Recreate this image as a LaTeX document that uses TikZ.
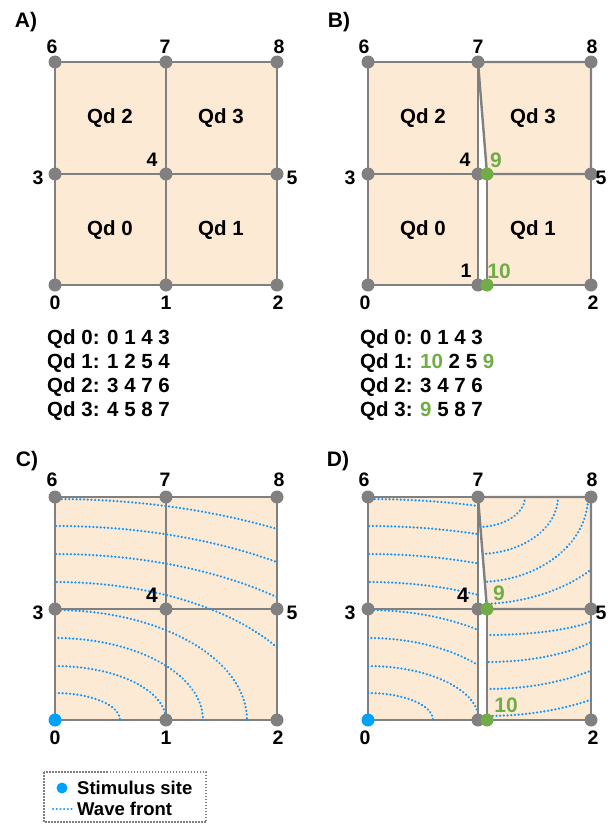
\documentclass[tikz,border=0pt]{standalone}
\usepackage{fontspec}
\setmainfont{Liberation Sans}
\definecolor{peach}{RGB}{253,234,213}
\definecolor{gridgray}{RGB}{128,128,128}
\definecolor{crackgreen}{RGB}{112,173,71}
\definecolor{stimblue}{RGB}{0,162,255}
\definecolor{waveblue}{RGB}{25,150,245}
\tikzset{
  quad/.style={fill=peach},
  edge/.style={draw=gridgray, line width=2.4pt, line join=round},
  vtx/.style={circle, fill=gridgray, inner sep=0pt, minimum size=13pt},
  gvtx/.style={vtx, fill=crackgreen},
  svtx/.style={vtx, fill=stimblue},
  wave/.style={draw=waveblue, line width=2.5pt, dash pattern=on 0.01pt off 3.7pt, line cap=round},
  nlbl/.style={font=\fontsize{19.5}{19.5}\selectfont\bfseries, inner sep=0pt},
  blbl/.style={font=\fontsize{21}{21}\selectfont\bfseries, inner sep=0pt},
  glbl/.style={blbl, text=crackgreen},
  qlbl/.style={font=\fontsize{20.5}{20.5}\selectfont\bfseries, inner sep=0pt},
  plbl/.style={font=\fontsize{21}{21}\selectfont\bfseries, inner sep=0pt},
  listline/.style={font=\fontsize{20.5}{20.5}\selectfont\bfseries, inner sep=0pt, anchor=west},
  leglbl/.style={font=\fontsize{18.5}{18.5}\selectfont\bfseries, inner sep=0pt, anchor=west},
  legbox/.style={draw=gridgray, line width=1.5pt, dash pattern=on 1.5pt off 1.5pt},
}
\begin{document}
\begin{tikzpicture}[x=1pt,y=-1pt]
\useasboundingbox (0,0) rectangle (608,825);
% ---------------- coordinates ----------------
% Panel A
\coordinate (a0) at (55,285);  \coordinate (a1) at (166,285); \coordinate (a2) at (277,285);
\coordinate (a3) at (55,174);  \coordinate (a4) at (166,174); \coordinate (a5) at (277,174);
\coordinate (a6) at (55,62);   \coordinate (a7) at (166,62);  \coordinate (a8) at (277,62);
% Panel B
\coordinate (b0) at (368,285); \coordinate (b1) at (478,285); \coordinate (b2) at (591,285);
\coordinate (b3) at (368,174); \coordinate (b4) at (478,174); \coordinate (b5) at (591,174);
\coordinate (b6) at (368,62);  \coordinate (b7) at (478,62);  \coordinate (b8) at (591,62);
\coordinate (b9) at (487,174); \coordinate (b10) at (487,285);
% Panel C
\coordinate (c0) at (55,720);  \coordinate (c1) at (166,720); \coordinate (c2) at (277,720);
\coordinate (c3) at (55,609);  \coordinate (c4) at (166,609); \coordinate (c5) at (277,609);
\coordinate (c6) at (55,497);  \coordinate (c7) at (166,497); \coordinate (c8) at (277,497);
% Panel D
\coordinate (d0) at (368,720); \coordinate (d1) at (478,720); \coordinate (d2) at (591,720);
\coordinate (d3) at (368,609); \coordinate (d4) at (478,609); \coordinate (d5) at (591,609);
\coordinate (d6) at (368,497); \coordinate (d7) at (478,497); \coordinate (d8) at (591,497);
\coordinate (d9) at (487,609); \coordinate (d10) at (487,720);

% ---------------- fills ----------------
\foreach \p in {a,c}{
  \fill[quad] (\p0) -- (\p1) -- (\p4) -- (\p3) -- cycle;
  \fill[quad] (\p1) -- (\p2) -- (\p5) -- (\p4) -- cycle;
  \fill[quad] (\p3) -- (\p4) -- (\p7) -- (\p6) -- cycle;
  \fill[quad] (\p4) -- (\p5) -- (\p8) -- (\p7) -- cycle;
}
\foreach \p in {b,d}{
  \fill[quad] (\p0) -- (\p1) -- (\p4) -- (\p3) -- cycle;
  \fill[quad] (\p10) -- (\p2) -- (\p5) -- (\p9) -- cycle;
  \fill[quad] (\p3) -- (\p4) -- (\p7) -- (\p6) -- cycle;
  \fill[quad] (\p9) -- (\p5) -- (\p8) -- (\p7) -- cycle;
}

% ---------------- edges ----------------
\foreach \p in {a,c}{
  \draw[edge] (\p0) -- (\p1) -- (\p4) -- (\p3) -- cycle;
  \draw[edge] (\p1) -- (\p2) -- (\p5) -- (\p4) -- cycle;
  \draw[edge] (\p3) -- (\p4) -- (\p7) -- (\p6) -- cycle;
  \draw[edge] (\p4) -- (\p5) -- (\p8) -- (\p7) -- cycle;
}
\foreach \p in {b,d}{
  \draw[edge] (\p0) -- (\p1) -- (\p4) -- (\p3) -- cycle;
  \draw[edge] (\p10) -- (\p2) -- (\p5) -- (\p9) -- cycle;
  \draw[edge] (\p3) -- (\p4) -- (\p7) -- (\p6) -- cycle;
  \draw[edge] (\p9) -- (\p5) -- (\p8) -- (\p7) -- cycle;
}

% ---------------- wave fronts ----------------
\begin{scope}
  \clip (c0) rectangle (c8);
  \foreach \ra/\rb in {65/27, 111/54, 148/82, 192/110, 261/138, 330/166, 382/194, 441/221}
    \draw[wave] (c0) ellipse [x radius=\ra, y radius=\rb];
\end{scope}
\begin{scope}
  \clip (d0) -- (d1) -- (d4) -- (d7) -- (d6) -- cycle;
  \foreach \ra/\rb in {65/27, 111/54, 148/82, 192/110, 261/138, 330/166, 382/194, 441/221}
    \draw[wave] (d0) ellipse [x radius=\ra, y radius=\rb];
\end{scope}
\begin{scope}
  \clip (d9) -- (d5) -- (d8) -- (d7) -- cycle;
  \foreach \ra/\rb in {47/30, 80/57, 110/85, 154/107}
    \draw[wave] (d7) ellipse [x radius=\ra, y radius=\rb];
\end{scope}
\begin{scope}
  \clip (d10) -- (d2) -- (d5) -- (d9) -- cycle;
  \foreach \ra/\rb in {119/26, 134/53, 163/80, 196/107}
    \draw[wave] (d9) ellipse [x radius=\ra, y radius=\rb];
\end{scope}

% ---------------- vertices ----------------
\foreach \p in {a,b,c,d}{
  \foreach \i in {1,...,8}
    \node[vtx] (n\p\i) at (\p\i) {};
}
\node[vtx] (na0) at (a0) {};
\node[vtx] (nb0) at (b0) {};
\node[svtx] (nc0) at (c0) {};
\node[svtx] (nd0) at (d0) {};
\node[gvtx] (nb9) at (b9) {};
\node[gvtx] (nb10) at (b10) {};
\node[gvtx] (nd9) at (d9) {};
\node[gvtx] (nd10) at (d10) {};

% ---------------- panel labels ----------------
\node[plbl] (pA) at (26,22) {A)};
\node[plbl] (pB) at (339,22) {B)};
\node[plbl] (pC) at (27,461) {C)};
\node[plbl] (pD) at (338,461) {D)};

% ---------------- node labels A ----------------
\node[nlbl] (la6) at (52,47) {6};
\node[nlbl] (la7) at (165,47) {7};
\node[nlbl] (la8) at (279,47) {8};
\node[nlbl] (la3) at (38,178) {3};
\node[nlbl] (la5) at (292,178) {5};
\node[nlbl] (la4) at (152,160) {4};
\node[nlbl] (la0) at (55,303) {0};
\node[nlbl] (la1) at (166,303) {1};
\node[nlbl] (la2) at (278,303) {2};
\node[qlbl] (qa2) at (110,118) {Qd 2};
\node[qlbl] (qa3) at (221,118) {Qd 3};
\node[qlbl] (qa0) at (110,230) {Qd 0};
\node[qlbl] (qa1) at (221,230) {Qd 1};

% ---------------- node labels B ----------------
\node[nlbl] (lb6) at (364,47) {6};
\node[nlbl] (lb7) at (478,47) {7};
\node[nlbl] (lb8) at (592,47) {8};
\node[nlbl] (lb3) at (350,178) {3};
\node[nlbl] (lb5) at (601,178) {5};
\node[nlbl] (lb4) at (465,160) {4};
\node[glbl] (lb9) at (496,160) {9};
\node[nlbl] (lb1) at (466,271) {1};
\node[glbl] (lb10) at (499,271) {10};
\node[nlbl] (lb0) at (365,303) {0};
\node[nlbl] (lb2) at (593,303) {2};
\node[qlbl] (qb2) at (423,118) {Qd 2};
\node[qlbl] (qb3) at (533,118) {Qd 3};
\node[qlbl] (qb0) at (423,230) {Qd 0};
\node[qlbl] (qb1) at (533,230) {Qd 1};

% ---------------- lists ----------------
\node[listline] (la-l0) at (47,339) {Qd 0: 0 1 4 3};
\node[listline] (la-l1) at (47,363) {Qd 1: 1 2 5 4};
\node[listline] (la-l2) at (47,387) {Qd 2: 3 4 7 6};
\node[listline] (la-l3) at (47,411) {Qd 3: 4 5 8 7};
\node[listline] (lb-l0) at (360,339) {Qd 0: 0 1 4 3};
\node[listline] (lb-l1) at (360,363) {Qd 1: \textcolor{crackgreen}{10} 2 5 \textcolor{crackgreen}{9}};
\node[listline] (lb-l2) at (360,387) {Qd 2: 3 4 7 6};
\node[listline] (lb-l3) at (360,411) {Qd 3: \textcolor{crackgreen}{9} 5 8 7};

% ---------------- node labels C ----------------
\node[nlbl] (lc6) at (52,480) {6};
\node[nlbl] (lc7) at (165,480) {7};
\node[nlbl] (lc8) at (279,480) {8};
\node[nlbl] (lc3) at (38,613) {3};
\node[nlbl] (lc5) at (292,613) {5};
\node[blbl] (lc4) at (152,595) {4};
\node[nlbl] (lc0) at (55,738) {0};
\node[nlbl] (lc1) at (166,738) {1};
\node[nlbl] (lc2) at (278,738) {2};

% ---------------- node labels D ----------------
\node[nlbl] (ld6) at (364,480) {6};
\node[nlbl] (ld7) at (478,480) {7};
\node[nlbl] (ld8) at (592,480) {8};
\node[nlbl] (ld3) at (350,613) {3};
\node[nlbl] (ld5) at (601,613) {5};
\node[blbl] (ld4) at (463,595) {4};
\node[glbl] (ld9) at (499,593) {9};
\node[glbl] (ld10) at (506,705) {10};
\node[nlbl] (ld0) at (365,738) {0};
\node[nlbl] (ld2) at (593,738) {2};

% ---------------- legend ----------------
\coordinate (lg1) at (44,772);
\coordinate (lg2) at (206,822);
\draw[legbox] (lg1) rectangle (lg2);
\node[svtx, minimum size=11pt] (lgdot) at (62,788) {};
\node[leglbl] (lgt1) at (77,788) {Stimulus site};
\coordinate (lgw1) at (53,809);
\coordinate (lgw2) at (72,809);
\draw[wave] (lgw1) -- (lgw2);
\node[leglbl] (lgt2) at (77,809) {Wave front};
\end{tikzpicture}
\end{document}
